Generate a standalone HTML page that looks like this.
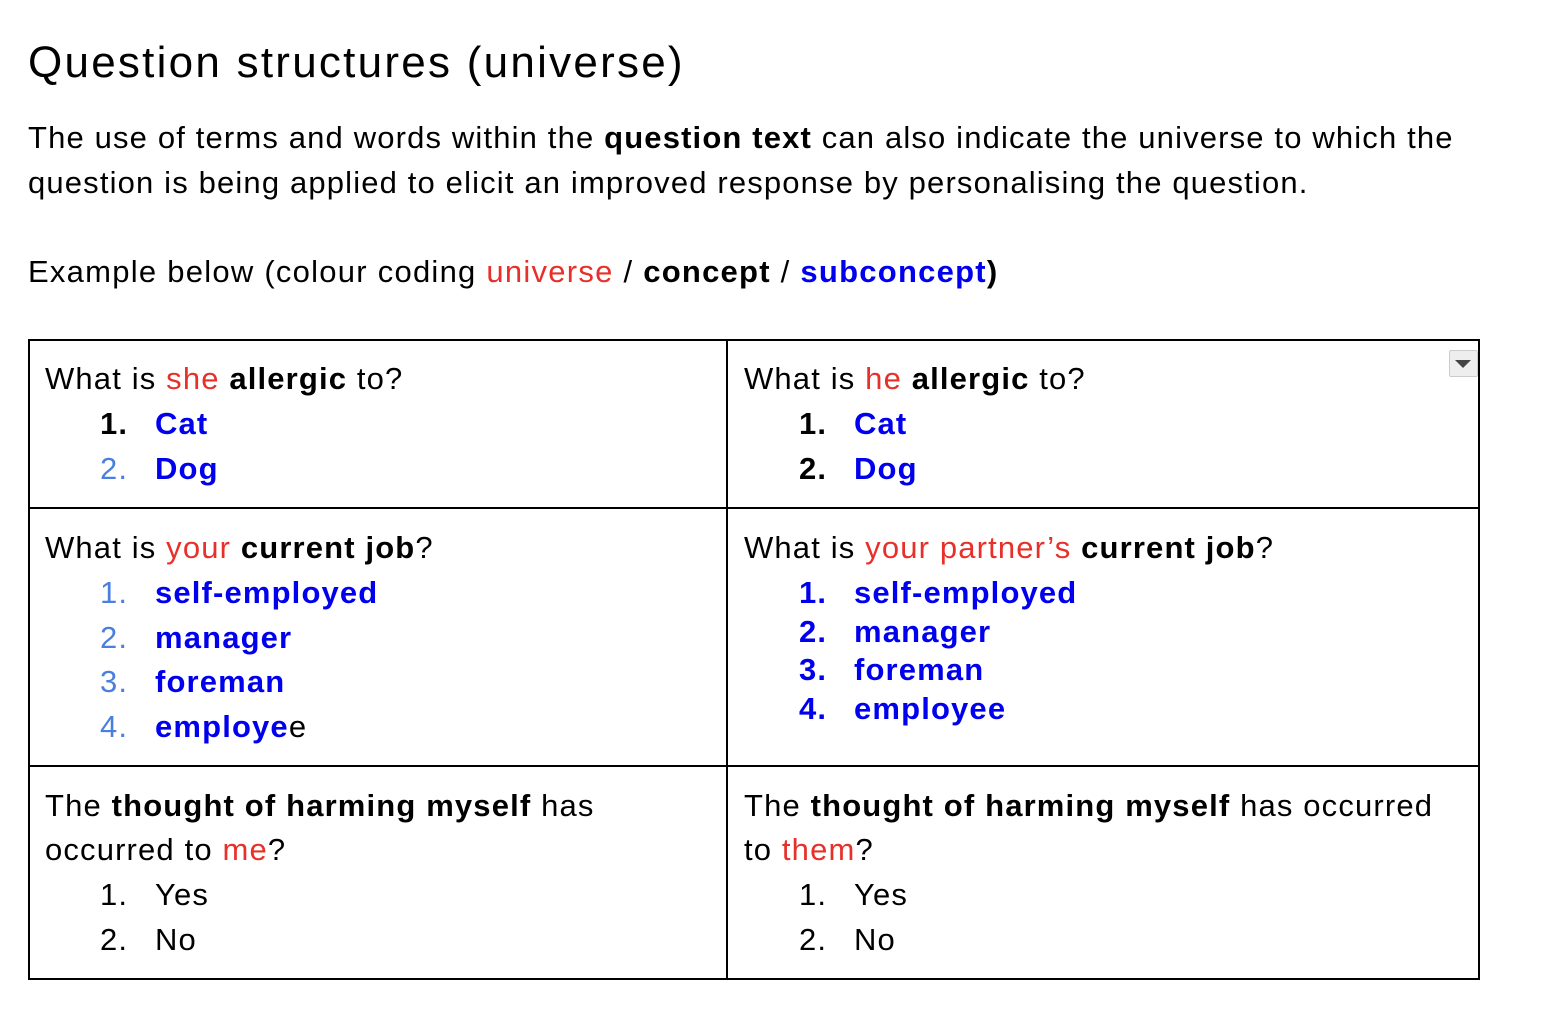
<!DOCTYPE html>
<html><head><meta charset="utf-8"><style>
body{margin:0;width:1562px;height:1034px;background:#fff;font-family:"Liberation Sans",Arial,sans-serif;color:#000;position:relative;overflow:hidden}
.l{position:absolute;white-space:nowrap;font-size:31px;line-height:45px;letter-spacing:1.15px}
.r{color:#e8302a}.b{color:#0000ee;font-weight:bold}.lb{color:#4a7fe0}
b{font-weight:bold}
.tb{position:absolute;background:#000}
</style></head><body>
<div class="l" style="left:28px;top:35px;font-size:44px;line-height:56px;letter-spacing:2.25px">Question structures (universe)</div>
<div class="l" style="left:28px;top:115px">The use of terms and words within the <b>question text</b> can also indicate the universe to which the</div>
<div class="l" style="left:28px;top:160px">question is being applied to elicit an improved response by personalising the question.</div>
<div class="l" style="left:28px;top:249px;letter-spacing:1.25px">Example below (colour coding <span class="r">universe</span> / <b>concept</b> / <b style="color:#0000ee">subconcept</b><b>)</b></div>

<div class="tb" style="left:28px;top:339px;width:1452px;height:2px"></div>
<div class="tb" style="left:28px;top:507px;width:1452px;height:2px"></div>
<div class="tb" style="left:28px;top:765px;width:1452px;height:2px"></div>
<div class="tb" style="left:28px;top:978px;width:1452px;height:2px"></div>
<div class="tb" style="left:28px;top:339px;width:2px;height:641px"></div>
<div class="tb" style="left:726px;top:339px;width:2px;height:641px"></div>
<div class="tb" style="left:1478px;top:339px;width:2px;height:641px"></div>
<div style="position:absolute;left:1449px;top:350px;width:27px;height:25px;background:#eee;border:1px solid #ccc;border-radius:2px"></div>
<div style="position:absolute;left:1455px;top:360px;width:0;height:0;border-left:8px solid transparent;border-right:8px solid transparent;border-top:8px solid #444"></div>

<div class="l" style="left:45px;top:356px">What is <span class="r">she</span> <b>allergic</b> to?</div>
<div class="l" style="left:100px;top:401px"><b>1.</b></div><div class="l b" style="left:155px;top:401px">Cat</div>
<div class="l lb" style="left:100px;top:446px">2.</div><div class="l b" style="left:155px;top:446px">Dog</div>

<div class="l" style="left:744px;top:356px">What is <span class="r">he</span> <b>allergic</b> to?</div>
<div class="l" style="left:799px;top:401px"><b>1.</b></div><div class="l b" style="left:854px;top:401px">Cat</div>
<div class="l" style="left:799px;top:446px"><b>2.</b></div><div class="l b" style="left:854px;top:446px">Dog</div>

<div class="l" style="left:45px;top:525px">What is <span class="r">your</span> <b>current job</b>?</div>
<div class="l lb" style="left:100px;top:570px">1.</div><div class="l b" style="left:155px;top:570px">self-employed</div>
<div class="l lb" style="left:100px;top:615px">2.</div><div class="l b" style="left:155px;top:615px">manager</div>
<div class="l lb" style="left:100px;top:659px">3.</div><div class="l b" style="left:155px;top:659px">foreman</div>
<div class="l lb" style="left:100px;top:704px">4.</div><div class="l" style="left:155px;top:704px"><b style="color:#0000ee">employe</b>e</div>

<div class="l" style="left:744px;top:525px">What is <span class="r">your partner’s</span> <b>current job</b>?</div>
<div class="l b" style="left:799px;top:570px">1.</div><div class="l b" style="left:854px;top:570px">self-employed</div>
<div class="l b" style="left:799px;top:609px">2.</div><div class="l b" style="left:854px;top:609px">manager</div>
<div class="l b" style="left:799px;top:647px">3.</div><div class="l b" style="left:854px;top:647px">foreman</div>
<div class="l b" style="left:799px;top:686px">4.</div><div class="l b" style="left:854px;top:686px">employee</div>

<div class="l" style="left:45px;top:783px">The <b>thought of harming myself</b> has</div>
<div class="l" style="left:45px;top:827px">occurred to <span class="r">me</span>?</div>
<div class="l" style="left:100px;top:872px">1.</div><div class="l" style="left:155px;top:872px">Yes</div>
<div class="l" style="left:100px;top:917px">2.</div><div class="l" style="left:155px;top:917px">No</div>

<div class="l" style="left:744px;top:783px">The <b>thought of harming myself</b> has occurred</div>
<div class="l" style="left:744px;top:827px">to <span class="r">them</span>?</div>
<div class="l" style="left:799px;top:872px">1.</div><div class="l" style="left:854px;top:872px">Yes</div>
<div class="l" style="left:799px;top:917px">2.</div><div class="l" style="left:854px;top:917px">No</div>
</body></html>
